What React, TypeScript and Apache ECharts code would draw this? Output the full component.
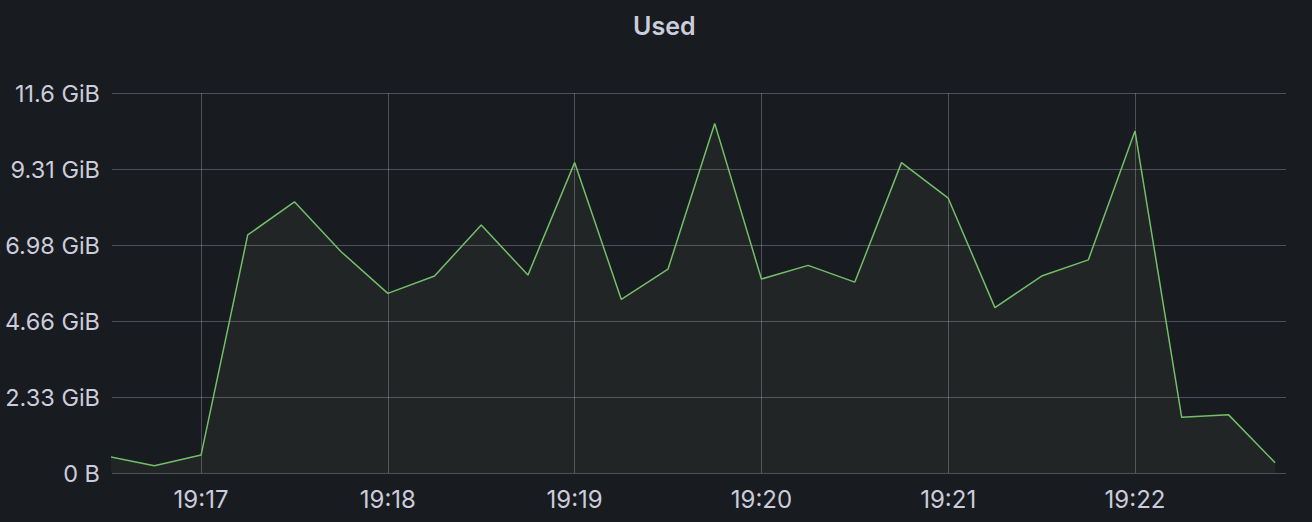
import React, { useEffect, useRef } from "react";
import * as echarts from "echarts";

// Sample timestamps (15 s scrape interval)
const times = [
  "19:16:30", "19:16:45", "19:17:00", "19:17:15", "19:17:30", "19:17:45",
  "19:18:00", "19:18:15", "19:18:30", "19:18:45", "19:19:00", "19:19:15",
  "19:19:30", "19:19:45", "19:20:00", "19:20:15", "19:20:30", "19:20:45",
  "19:21:00", "19:21:15", "19:21:30", "19:21:45", "19:22:00", "19:22:15",
  "19:22:30", "19:22:45",
];

// Used memory, in GB (10^9 bytes)
const usedGB = [
  0.55, 0.24, 0.59, 7.83, 8.92, 7.28, 5.91, 6.48, 8.16, 6.51, 10.21, 5.71,
  6.71, 11.5, 6.38, 6.83, 6.28, 10.21, 9.04, 5.44, 6.48, 7.01, 11.25, 1.83,
  1.92, 0.34,
];

const tickLabels = ["19:17", "19:18", "19:19", "19:20", "19:21", "19:22"];
const rangeStart = "19:16:31.4";
const rangeEnd = "19:22:48.5";

const yMax = 12.5e9;
const yStep = 2.5e9;

const toSec = (s: string) => {
  const p = s.split(":").map(Number);
  return p[0] * 3600 + p[1] * 60 + (p[2] || 0);
};

const fmtBytes = (v: number) => {
  if (v === 0) return "0 B";
  return (v / Math.pow(2, 30)).toPrecision(3) + " GiB";
};

const fmtTime = (v: number) => {
  const h = Math.floor(v / 3600);
  const m = Math.round((v - h * 3600) / 60);
  return `${h}:${m < 10 ? "0" + m : m}`;
};

export default function App() {
  const ref = useRef<HTMLDivElement>(null);

  useEffect(() => {
    if (!ref.current) return;
    const chart = echarts.init(ref.current, undefined, { renderer: "svg" });
    const gridColor = "rgba(204,204,220,0.3)";
    const textColor = "#ccccdc";
    const font = "Inter, Roboto, sans-serif";
    const tickVals = tickLabels.map(toSec);

    chart.setOption({
      animation: false,
      backgroundColor: "#181b1f",
      title: {
        text: "Used",
        left: 628,
        top: 8,
        textStyle: {
          color: textColor,
          fontSize: 25,
          fontWeight: 600,
          fontFamily: font,
        },
      },
      grid: {
        left: 112,
        right: 26,
        top: 93,
        bottom: 49,
        containLabel: false,
        outerBoundsMode: "none",
      },
      xAxis: {
        type: "value",
        min: toSec(rangeStart),
        max: toSec(rangeEnd),
        axisLine: { show: false },
        axisTick: { show: false, customValues: tickVals },
        splitLine: { show: true, lineStyle: { color: gridColor, width: 1 } },
        axisLabel: {
          customValues: tickVals,
          color: textColor,
          fontSize: 24,
          fontFamily: font,
          margin: 14,
          formatter: (v: number) => fmtTime(v),
        },
      },
      yAxis: {
        type: "value",
        min: 0,
        max: yMax,
        interval: yStep,
        axisLine: { show: false },
        axisTick: { show: false },
        splitLine: { show: true, lineStyle: { color: gridColor, width: 1 } },
        axisLabel: {
          color: textColor,
          fontSize: 23.5,
          fontFamily: font,
          margin: 12,
          formatter: (v: number) => fmtBytes(v),
        },
      },
      series: [
        {
          name: "Used",
          type: "line",
          showSymbol: false,
          clip: true,
          data: times.map((t, i) => [toSec(t), usedGB[i] * 1e9]),
          lineStyle: { color: "#73bf69", width: 1.5 },
          itemStyle: { color: "#73bf69" },
          areaStyle: { color: "rgba(150,175,140,0.1)" },
        },
      ],
    });

    return () => chart.dispose();
  }, []);

  return (
    <div
      ref={ref}
      style={{ position: "fixed", left: 0, top: 0, width: 1312, height: 522 }}
    />
  );
}
